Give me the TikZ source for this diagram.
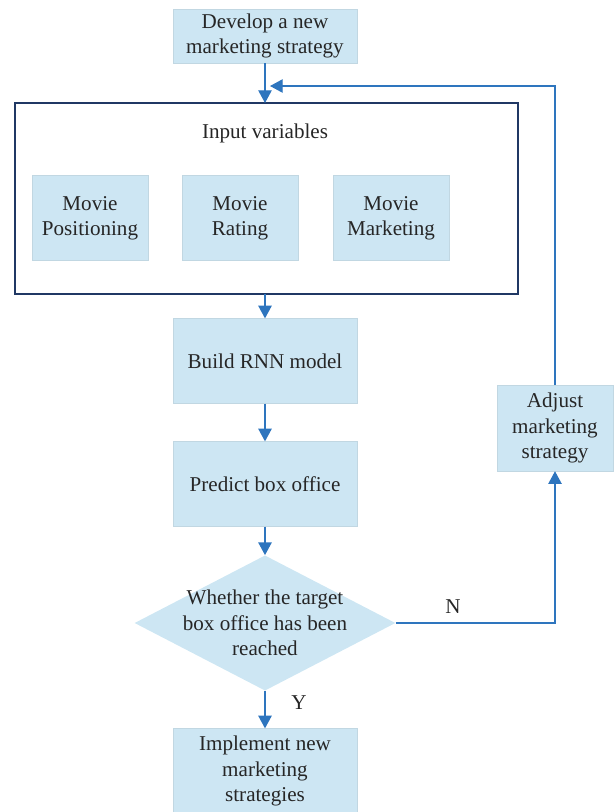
\documentclass[tikz,border=0pt]{standalone}
\usepackage{fontspec}
\setmainfont{Liberation Serif}
\usetikzlibrary{arrows.meta,shapes.geometric}
\definecolor{boxfill}{RGB}{205,230,243}
\definecolor{arrowblue}{RGB}{46,117,190}
\definecolor{framenavy}{RGB}{32,56,100}

\begin{document}
\begin{tikzpicture}[x=0.025cm, y=-0.025cm,
  every node/.style={font=\fontsize{15}{18}\selectfont, text=black!85, align=center},
  stepbox/.style={fill=boxfill, draw=boxfill!85!gray, line width=0.3pt, minimum width=4.6cm, minimum height=2.12cm},
  varbox/.style={stepbox, minimum width=2.9cm, minimum height=2.12cm},
  flow/.style={draw=arrowblue, line width=0.9pt, -{Triangle[width=9.5pt,length=9pt]}}]
\useasboundingbox (0,0) rectangle (615,812);
\clip (0,0) rectangle (615,812);
\node[stepbox, minimum height=1.35cm] (develop) at (265,36) {Develop a new\\marketing strategy};
\draw[framenavy, line width=0.9pt] (15,103) rectangle (518,294);
\coordinate (frametop) at (265,103);
\coordinate (framebot) at (265,294);
\node (inputs) at (265,133) {Input variables};
\node[varbox] (positioning) at (90,218) {Movie\\Positioning};
\node[varbox] (rating) at (240,218) {Movie\\Rating};
\node[varbox] (marketing) at (391,218) {Movie\\Marketing};
\node[stepbox] (rnn) at (265,361) {Build RNN model};
\node[stepbox] (predict) at (265,484) {Predict box office};
\node[diamond, fill=boxfill, minimum width=6.52cm, minimum height=3.38cm, aspect=1.93, inner sep=0pt] (reached) at (265,623) {};
\node at (265,623) {Whether the target\\box office has been\\reached};
\node[stepbox] (implement) at (265,771) {Implement new\\marketing\\strategies};
\node[varbox, minimum height=2.15cm] (adjust) at (555,428) {Adjust\\marketing\\strategy};
\coordinate (feedin) at (270,86);
\draw[flow] (develop) -- (frametop);
\draw[flow] (framebot) -- (rnn);
\draw[flow] (rnn) -- (predict);
\draw[flow] (predict) -- (reached);
\draw[flow] (reached) -- node[right=15pt, pos=0.3] {Y} (implement);
\draw[flow] (reached.east) -| node[pos=0.18, above=3pt] {N} (adjust.south);
\draw[flow] (adjust.north) |- (feedin);
\end{tikzpicture}
\end{document}
